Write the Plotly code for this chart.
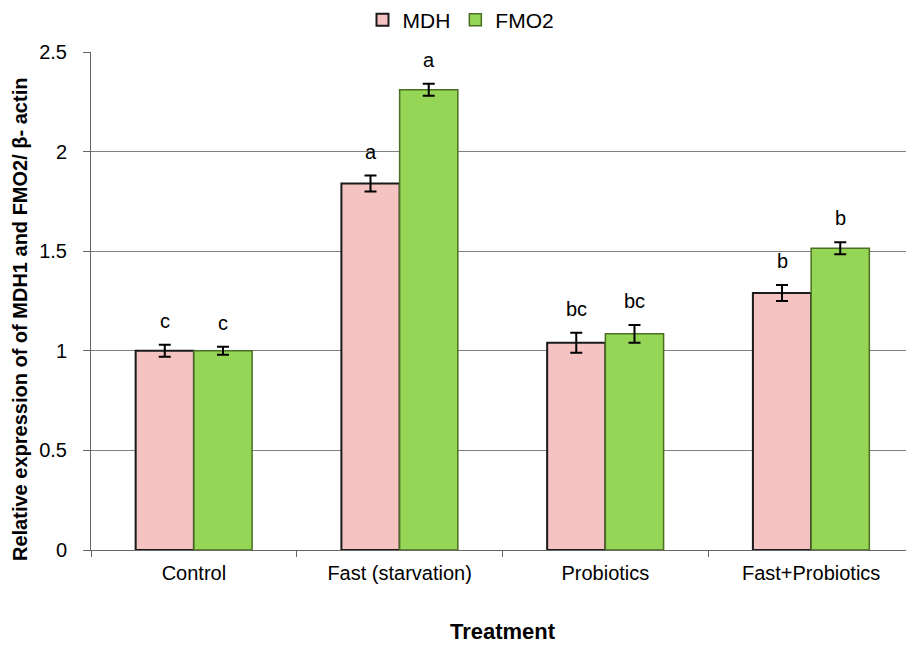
import plotly.graph_objects as go

categories = ["Control", "Fast (starvation)", "Probiotics", "Fast+Probiotics"]
mdh_values = [1.00, 1.84, 1.04, 1.29]
mdh_errors = [0.03, 0.04, 0.05, 0.04]
fmo2_values = [1.00, 2.31, 1.085, 1.515]
fmo2_errors = [0.02, 0.03, 0.045, 0.03]
mdh_letters = ["c", "a", "bc", "b"]
fmo2_letters = ["c", "a", "bc", "b"]

font = "Liberation Sans, Arial, sans-serif"
bargap = 0.434
half = (1 - bargap) / 4

# page body has an 8px margin; size the figure so it fits the 914x645 window
W, H = 906, 637
L, R, T, B = 83, 0, 44, 95
plot_w = W - L - R
plot_h = H - T - B

fig = go.Figure()
fig.add_trace(go.Bar(
    name="MDH", x=categories, y=mdh_values,
    marker=dict(color="#f4c3c2", line=dict(color="#1a1a1a", width=2)),
    error_y=dict(type="data", array=mdh_errors, color="black", thickness=2, width=6),
))
fig.add_trace(go.Bar(
    name="FMO2", x=categories, y=fmo2_values,
    marker=dict(color="#96d656", line=dict(color="#4a6e22", width=1.5)),
    error_y=dict(type="data", array=fmo2_errors, color="black", thickness=2, width=6),
))

# significance letters
for i, cat in enumerate(categories):
    for vals, errs, letters, off in ((mdh_values, mdh_errors, mdh_letters, -half),
                                      (fmo2_values, fmo2_errors, fmo2_letters, half)):
        fig.add_annotation(
            x=i + off, y=vals[i] + errs[i], xref="x", yref="y",
            text=letters[i], showarrow=False, yanchor="middle", yshift=24,
            font=dict(family=font, size=20, color="black"),
        )

# y-axis title
fig.add_annotation(
    x=-(L - 12) / plot_w, y=0.5 - 19 / plot_h, xref="paper", yref="paper",
    text="<b>Relative expression of of MDH1 and FMO2/ β- actin</b>",
    textangle=-90, showarrow=False, xanchor="center", yanchor="middle",
    font=dict(family=font, size=20, color="black"),
)

fig.update_layout(
    width=W, height=H,
    margin=dict(l=L, r=R, t=T, b=B),
    paper_bgcolor="white", plot_bgcolor="white",
    barmode="group", bargap=bargap, bargroupgap=0,
    font=dict(family=font, size=20, color="black"),
    showlegend=True,
    legend=dict(orientation="h", x=0.5, xanchor="center", xref="container",
                y=1 - 12 / H, yanchor="middle", yref="container",
                font=dict(family=font, size=21), itemwidth=30, traceorder="normal",
                tracegroupgap=0),
    xaxis=dict(
        type="category", range=[-0.5, 3.5], automargin=False,
        showline=True, linecolor="#666", linewidth=1,
        ticks="outside", tickson="boundaries", ticklen=6, tickcolor="#666",
        ticklabelstandoff=5,
        tickfont=dict(family=font, size=20),
        title=dict(text="<b>Treatment</b>", font=dict(family=font, size=22), standoff=40),
    ),
    yaxis=dict(
        range=[0, 2.5], dtick=0.5, tickformat="~g", automargin=False,
        showline=True, linecolor="#666", linewidth=1,
        ticks="outside", ticklen=7, tickcolor="#666",
        ticklabelstandoff=12,
        showgrid=True, gridcolor="#808080", gridwidth=1, zeroline=False,
        tickfont=dict(family=font, size=20),
    ),
)

fig.write_html("out.html")
